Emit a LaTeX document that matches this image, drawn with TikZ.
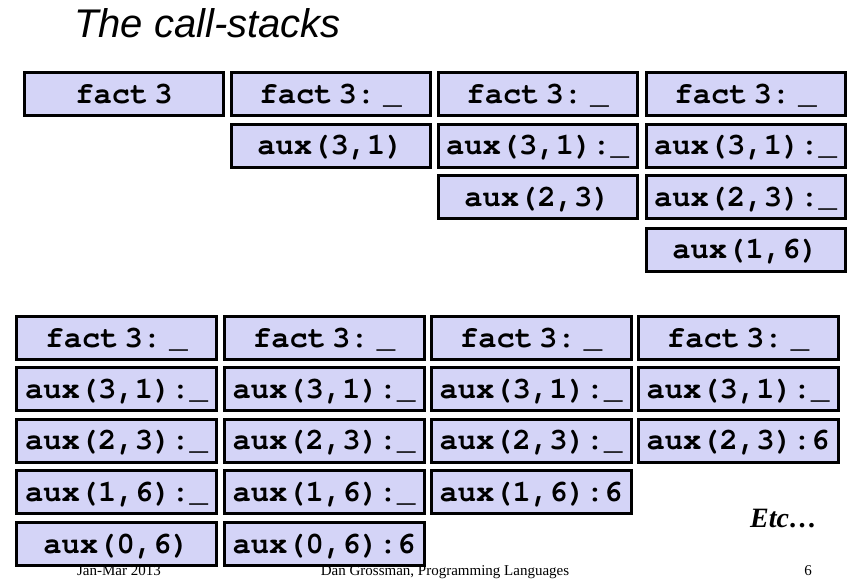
\documentclass[tikz,border=0pt]{standalone}
\usepackage{fontspec}
\setmainfont{Liberation Serif}
\newfontfamily\monofnt{TeX Gyre Cursor}
\newfontfamily\titlefnt{Liberation Sans}
\definecolor{framefill}{RGB}{212,212,247}
\newcommand\fct{fact\hspace{6pt}3}
\newcommand\fcu{fact\hspace{6pt}3:\hspace{8pt}\_}
\begin{document}
\begin{tikzpicture}[x=1pt,y=-1pt,
  frame/.style={draw=black, line width=3pt, fill=framefill, inner sep=0pt,
    minimum width=199pt, minimum height=43pt, text height=23pt, text depth=5pt,
    font=\monofnt\bfseries\fontsize{30.5}{30.5}\selectfont},
  wframe/.style={frame, minimum width=200pt},
  foot/.style={anchor=base, inner sep=0pt, font=\fontsize{15}{15}\selectfont}]
\useasboundingbox (0,0) rectangle (865,579);
% title
\node[anchor=base west, inner sep=0pt, font=\titlefnt\itshape\fontsize{40}{40}\selectfont] (title) at (74,37) {The call-stacks};
% top group
\node[frame] (a1) at (124,94) {\fct};
\node[frame] (b1) at (330.5,94) {\fcu};
\node[frame] (b2) at (330.5,145.5) {aux(3,1)};
\node[frame] (c1) at (537.5,94) {\fcu};
\node[frame] (c2) at (537.5,145.5) {aux(3,1):\_};
\node[frame] (c3) at (537.5,197) {aux(2,3)};
\node[frame] (d1) at (745.5,94) {\fcu};
\node[frame] (d2) at (745.5,145.5) {aux(3,1):\_};
\node[frame] (d3) at (745.5,197) {aux(2,3):\_};
\node[frame] (d4) at (745.5,249.5) {aux(1,6)};
% bottom group
\node[wframe] (e1) at (116.5,338) {\fcu};
\node[wframe] (e2) at (116.5,389) {aux(3,1):\_};
\node[wframe] (e3) at (116.5,440.5) {aux(2,3):\_};
\node[wframe] (e4) at (116.5,492) {aux(1,6):\_};
\node[wframe] (e5) at (116.5,544) {aux(0,6)};
\node[wframe] (f1) at (324,338) {\fcu};
\node[wframe] (f2) at (324,389) {aux(3,1):\_};
\node[wframe] (f3) at (324,440.5) {aux(2,3):\_};
\node[wframe] (f4) at (324,492) {aux(1,6):\_};
\node[wframe] (f5) at (324,544) {aux(0,6):6};
\node[wframe] (g1) at (531,338) {\fcu};
\node[wframe] (g2) at (531,389) {aux(3,1):\_};
\node[wframe] (g3) at (531,440.5) {aux(2,3):\_};
\node[wframe] (g4) at (531,492) {aux(1,6):6};
\node[wframe] (h1) at (738,338) {\fcu};
\node[wframe] (h2) at (738,389) {aux(3,1):\_};
\node[wframe] (h3) at (738,440.5) {aux(2,3):6};
% etc
\node[anchor=base west, inner sep=0pt, font=\bfseries\itshape\fontsize{28}{28}\selectfont] (etc) at (750,527) {Etc…};
% footer
\node[foot] (date) at (119,575.5) {Jan-Mar 2013};
\node[foot] (author) at (445,575.5) {Dan Grossman, Programming Languages};
\node[foot] (page) at (808,575.5) {6};
\end{tikzpicture}
\end{document}
